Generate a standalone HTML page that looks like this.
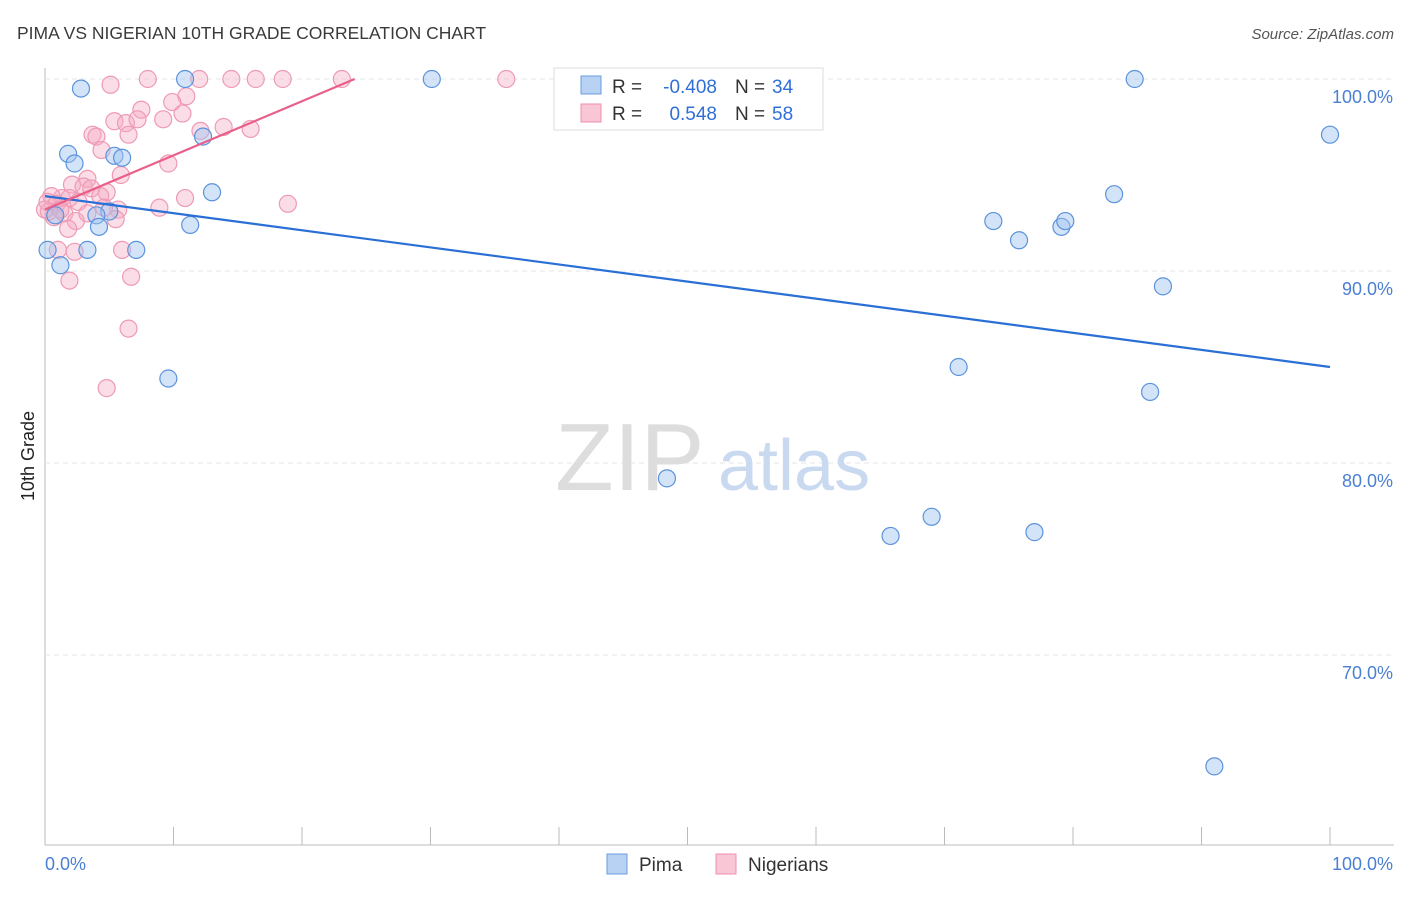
<!DOCTYPE html>
<html><head><meta charset="utf-8"><style>
body{margin:0;background:#fff;font-family:"Liberation Sans",sans-serif}
svg text{font-family:"Liberation Sans",sans-serif}
</style></head><body>
<svg id="chart" width="1406" height="892">
<text x="17" y="39" font-size="17.5" fill="#3a3a3a">PIMA VS NIGERIAN 10TH GRADE CORRELATION CHART</text>
<text x="1394" y="39" font-size="15" fill="#555" font-style="italic" text-anchor="end">Source: ZipAtlas.com</text>
<text x="34" y="456" font-size="18" fill="#222" transform="rotate(-90 34 456)" text-anchor="middle">10th Grade</text>
<g id="grid"></g>
<text x="555" y="490" font-size="96" fill="#ddd" font-family="Liberation Serif">ZIP</text>
<text x="718" y="490" font-size="72" fill="#c9d9ef">atlas</text>
<g id="pts"></g>
<g id="lines"></g>
<g>
<rect x="554" y="68" width="269" height="62" fill="#fff" stroke="#ddd"/>
<rect x="581" y="76" width="20" height="18" fill="#b8d2f4" stroke="#6a9ce0"/>
<rect x="581" y="104" width="20" height="18" fill="#f9c6d5" stroke="#ee8fab"/>
<text x="612" y="93" font-size="19" fill="#333">R =</text>
<text x="717" y="93" font-size="19" fill="#2f6fd6" text-anchor="end">-0.408</text>
<text x="735" y="93" font-size="19" fill="#333">N =</text>
<text x="772" y="93" font-size="19" fill="#2f6fd6">34</text>
<text x="612" y="120" font-size="19" fill="#333">R =</text>
<text x="717" y="120" font-size="19" fill="#2f6fd6" text-anchor="end">0.548</text>
<text x="735" y="120" font-size="19" fill="#333">N =</text>
<text x="772" y="120" font-size="19" fill="#2f6fd6">58</text>
</g>
<g>
<rect x="607" y="854" width="20" height="20" fill="#b8d2f4" stroke="#6a9ce0"/>
<text x="639" y="871" font-size="19" fill="#333">Pima</text>
<rect x="716" y="854" width="20" height="20" fill="#f9c6d5" stroke="#ee8fab"/>
<text x="748" y="871" font-size="19" fill="#333">Nigerians</text>
</g>
<text x="45" y="870" font-size="18" fill="#4a7fd4">0.0%</text>
<text x="1393" y="870" font-size="18" fill="#4a7fd4" text-anchor="end">100.0%</text>
</svg>
<script>
const yTicks=[100,90,80,70];
const yTickLabels=["100.0%","90.0%","80.0%","70.0%"];
const pimaX=[2.8,10.9,30.1,84.8,100,1.8,2.3,5.4,6,12.3,13,5,4,4.2,11.3,0.2,1.2,3.3,7.1,9.6,73.8,75.8,79.1,79.4,83.2,87,71.1,86,48.4,65.8,69,77,91,0.8];
const pimaY=[99.5,100,100,100,97.1,96.1,95.6,96,95.9,97,94.1,93.1,92.9,92.3,92.4,91.1,90.3,91.1,91.1,84.4,92.6,91.6,92.3,92.6,94,89.2,85,83.7,79.2,76.2,77.2,76.4,64.2,92.9];
const nigX=[5.1,8,12,14.5,16.4,18.5,23.1,35.9,11,9.9,7.5,10.7,5.4,6.3,7.2,9.2,12.1,13.9,16,3.7,4,6.5,4.4,9.6,5.9,3.3,2.1,3,3.6,4.8,1.3,0.5,0.2,0.9,1.9,2.6,4.3,10.9,18.9,8.9,5.7,4.6,1.5,0.7,2.4,5.5,0.3,3.3,1.8,1,2.3,6,6.7,1.9,6.5,4.8,0,1.2];
const nigY=[99.7,100,100,100,100,100,100,100,99.1,98.8,98.4,98.2,97.8,97.7,97.9,97.9,97.3,97.5,97.4,97.1,97,97.1,96.3,95.6,95,94.8,94.5,94.4,94.3,94.1,93.8,93.9,93.6,93.5,93.8,93.6,93.9,93.8,93.5,93.3,93.2,93.3,93,92.8,92.6,92.7,93.1,93,92.2,91.1,91,91.1,89.7,89.5,87,83.9,93.2,93.2];
const pimaTrend=[[0,93.9],[100,85.0]];
const nigTrend=[[0,93.2],[24.1,100]];
const X=v=>45+v*12.85, Y=v=>79+(100-v)*19.2;
const NS="http://www.w3.org/2000/svg";
function mk(t,a,p){const e=document.createElementNS(NS,t);for(const k in a)e.setAttribute(k,a[k]);p.appendChild(e);return e;}
const grid=document.getElementById('grid');
mk('line',{x1:45,y1:68,x2:45,y2:845,stroke:'#bbb'},grid);
mk('line',{x1:45,y1:845,x2:1394,y2:845,stroke:'#bbb'},grid);
for(let i=0;i<=10;i++){mk('line',{x1:45+i*128.5,y1:827,x2:45+i*128.5,y2:845,stroke:'#bbb'},grid);}
yTicks.forEach((t,i)=>{
 const l=mk('line',{x1:45,y1:Y(t),x2:1394,y2:Y(t),stroke:'#e6e6e6','stroke-dasharray':'5,4'},grid);
 
 
 const tx=mk('text',{x:1393,y:Y(t)+24,'font-size':18,fill:'#4a7fd4','text-anchor':'end'},grid);
 tx.textContent=yTickLabels[i];
 
 
});
const pts=document.getElementById('pts');
nigX.forEach((x,i)=>{const c=mk('circle',{cx:X(x),cy:Y(nigY[i]),r:8.5,fill:'rgba(246,170,195,0.4)',stroke:'#ee9ab4','stroke-width':1.2},pts);
 
 });
pimaX.forEach((x,i)=>{const c=mk('circle',{cx:X(x),cy:Y(pimaY[i]),r:8.5,fill:'rgba(160,196,240,0.45)',stroke:'#5b93dc','stroke-width':1.2},pts);
 
 });
const lines=document.getElementById('lines');
const a=mk('line',{x1:X(pimaTrend[0][0]),y1:Y(pimaTrend[0][1]),x2:X(pimaTrend[1][0]),y2:Y(pimaTrend[1][1]),stroke:'#2a6fd6','stroke-width':2.2},lines);


const b=mk('line',{x1:X(nigTrend[0][0]),y1:Y(nigTrend[0][1]),x2:X(nigTrend[1][0]),y2:Y(nigTrend[1][1]),stroke:'#e8608a','stroke-width':2.2},lines);


</script>
</body></html>
